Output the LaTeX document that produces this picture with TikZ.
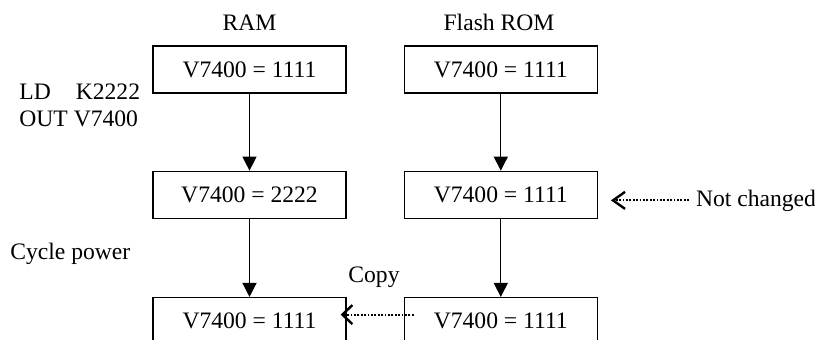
\documentclass[tikz,border=0pt]{standalone}
\usepackage{fontspec}
\setmainfont{Liberation Serif}
\usepackage{tikz}
\usetikzlibrary{arrows.meta, positioning}

\begin{document}
\begin{tikzpicture}[
    x=0.5pt, y=-0.5pt,
    every node/.style={font=\fontsize{11.8}{13.5}\selectfont},
    membox/.style={rectangle, draw, line width=0.65pt, minimum width=96.5pt, minimum height=23.5pt, inner sep=0pt, align=center},
    flow/.style={-{Triangle[length=7pt, width=7pt]}, line width=0.65pt},
    note/.style={dash pattern=on 0.9pt off 0.8pt, line width=0.9pt}
]
    \useasboundingbox (0,0) rectangle (815,339);

    % RAM column
    \node[membox] (ram1) at (249.5,69.5) {V7400 = 1111};
    \node[membox, below=38.5pt of ram1] (ram2) {V7400 = 2222};
    \node[membox, below=39pt of ram2] (ram3) {V7400 = 1111};

    % Flash ROM column
    \node[membox, right=28.5pt of ram1] (flash1) {V7400 = 1111};
    \node[membox, below=38.5pt of flash1] (flash2) {V7400 = 1111};
    \node[membox, below=39pt of flash2] (flash3) {V7400 = 1111};

    % Headings
    \node[anchor=base] (ramlbl) at (249.5,30) {RAM};
    \node[anchor=base] (flashlbl) at (499,30) {Flash ROM};

    % Side notes
    \node[anchor=base west, align=left, inner sep=0pt] (ldout) at (19,126) {LD\hspace{12.5pt}K2222\\OUT V7400};
    \node[anchor=base west, inner sep=0pt] (cycle) at (10,259) {Cycle power};
    \node[anchor=base] (copy) at (374,282) {Copy};
    \node[anchor=base west] (notch) at (689,206) {Not changed};

    % Arrows
    \draw[flow] (ram1) -- (ram2);
    \draw[flow] (ram2) -- (ram3);
    \draw[flow] (flash1) -- (flash2);
    \draw[flow] (flash2) -- (flash3);

    % Dotted arrows
    \coordinate (nctip) at ([xshift=6.5pt]flash2.east);
    \draw[note, -{Straight Barb[length=6pt, width=8.5pt, line width=1.2pt]}] (notch.west) -- (notch.west -| nctip);
    \draw[note, -{Straight Barb[length=5pt, width=9.5pt, line width=1.2pt]}] ([xshift=5pt, yshift=3.25pt]flash3.west) -- ([xshift=-3pt, yshift=3.25pt]ram3.east);
\end{tikzpicture}
\end{document}
